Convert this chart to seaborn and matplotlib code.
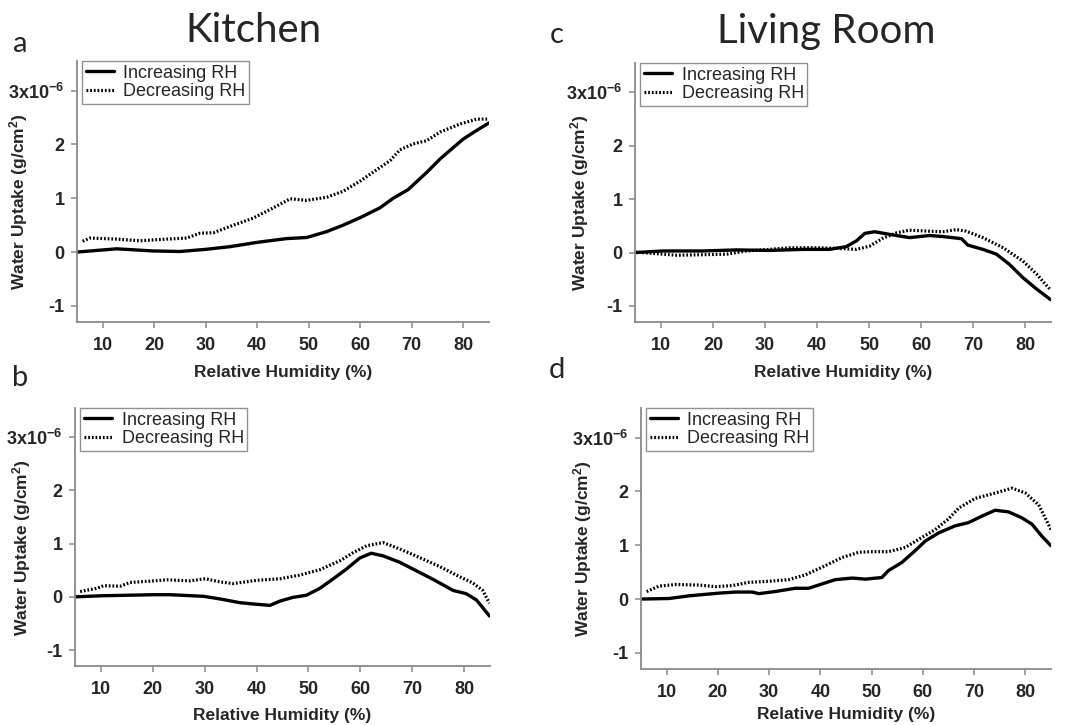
import numpy as np
import pandas as pd
import matplotlib
matplotlib.use("Agg")
import matplotlib.pyplot as plt
import seaborn as sns

# ---------------- data (RH %, water uptake in 1e-6 g/cm^2) ----------------
a_inc_x = [5, 12.7, 19.8, 25, 30, 34.7, 40, 45.7, 49.6, 53.5, 56.7, 60, 63.8, 66.4, 69.3, 72.9, 75.5, 80, 82.6, 85]
a_inc_y = [0, 0.06, 0.02, 0.01, 0.05, 0.10, 0.18, 0.25, 0.27, 0.38, 0.50, 0.64, 0.82, 1.00, 1.16, 1.48, 1.73, 2.10, 2.26, 2.40]
a_dec_x = [6.1, 7.5, 12.7, 17.2, 22.4, 26.3, 28.9, 31.5, 35.4, 39.2, 43.1, 46.4, 49.6, 53.5, 56.7, 60, 63.2, 65.8, 67.7, 70.3, 72.9, 75.5, 79.4, 82.6, 85]
a_dec_y = [0.20, 0.26, 0.24, 0.21, 0.24, 0.26, 0.35, 0.36, 0.50, 0.63, 0.82, 0.99, 0.96, 1.02, 1.13, 1.32, 1.53, 1.70, 1.90, 2.01, 2.07, 2.23, 2.38, 2.47, 2.47]

b_inc_x = [5, 10, 20.1, 23.3, 29.8, 33, 36.8, 40, 42.6, 44.5, 47, 49.6, 52.2, 54.8, 57.3, 59.9, 62.1, 64.4, 67.6, 70.2, 74, 77.9, 80.4, 82.4, 84.9]
b_inc_y = [0, 0.02, 0.04, 0.04, 0.01, -0.04, -0.11, -0.14, -0.16, -0.08, -0.01, 0.03, 0.16, 0.34, 0.52, 0.73, 0.82, 0.77, 0.65, 0.52, 0.33, 0.12, 0.06, -0.06, -0.36]
b_dec_x = [6, 9.2, 10.5, 13.7, 15.6, 20.1, 22.7, 27.2, 30.1, 33, 35.5, 40, 44.5, 48.4, 52.2, 56.1, 58.6, 61.2, 64.4, 67.6, 71.4, 75.3, 79.1, 81.7, 83.6, 84.9]
b_dec_y = [0.10, 0.16, 0.21, 0.20, 0.27, 0.30, 0.32, 0.30, 0.34, 0.28, 0.25, 0.31, 0.34, 0.41, 0.51, 0.68, 0.83, 0.96, 1.02, 0.90, 0.74, 0.57, 0.38, 0.26, 0.12, -0.12]

c_inc_x = [5, 10.4, 18.1, 24.5, 30.9, 37.3, 42.4, 45.6, 47.6, 49.2, 51.1, 54, 57.8, 61.7, 64.2, 67.8, 69, 71.9, 74.5, 77, 79.6, 82.2, 84.9]
c_inc_y = [0, 0.03, 0.03, 0.05, 0.04, 0.06, 0.06, 0.11, 0.22, 0.36, 0.39, 0.34, 0.28, 0.32, 0.30, 0.26, 0.14, 0.06, -0.03, -0.22, -0.47, -0.68, -0.88]
c_dec_x = [5, 7.8, 12.9, 18.1, 22.6, 26.4, 30.9, 34.7, 39.9, 43.7, 47.6, 50.1, 52.7, 55.3, 57.8, 61.7, 64.2, 66.8, 68.7, 71.9, 75.8, 79.6, 82.2, 84.9]
c_dec_y = [0.01, -0.01, -0.05, -0.04, -0.03, 0.03, 0.06, 0.09, 0.09, 0.08, 0.06, 0.12, 0.27, 0.37, 0.42, 0.40, 0.39, 0.43, 0.40, 0.28, 0.09, -0.16, -0.40, -0.70]

d_inc_x = [5, 10.5, 14.4, 20.2, 23.5, 26.7, 28, 31.2, 35.1, 37.7, 40.3, 42.9, 46.2, 48.8, 52, 53.3, 55.9, 58.5, 60.5, 63.1, 66.3, 68.9, 71.5, 74.1, 76.7, 79.3, 81.3, 83.2, 85]
d_inc_y = [0, 0.01, 0.06, 0.11, 0.13, 0.13, 0.10, 0.14, 0.20, 0.20, 0.28, 0.36, 0.39, 0.37, 0.40, 0.53, 0.68, 0.90, 1.08, 1.23, 1.36, 1.42, 1.54, 1.65, 1.62, 1.51, 1.39, 1.17, 0.99]
d_dec_x = [6.1, 8.5, 11.8, 16.3, 19.6, 22.8, 26, 29.9, 33.8, 37.1, 40.3, 44.2, 47.5, 50.1, 53.3, 56.6, 59.2, 62.4, 65, 67, 70.2, 74.1, 77.4, 80, 82.6, 85]
d_dec_y = [0.14, 0.24, 0.27, 0.26, 0.23, 0.25, 0.31, 0.33, 0.36, 0.45, 0.59, 0.77, 0.87, 0.88, 0.88, 0.96, 1.11, 1.29, 1.49, 1.69, 1.87, 1.97, 2.06, 1.97, 1.75, 1.29]

series_labels = ["Increasing RH", "Decreasing RH"]
x_ticks = [10, 20, 30, 40, 50, 60, 70, 80]
y_ticks = [-1, 0, 1, 2, 3]
y_tick_labels = ["-1", "0", "1", "2", "3x10$^{\\mathrm{-6}}$"]
titles = ["Kitchen", "Living Room"]
panel_letters = ["a", "b", "c", "d"]

# ---------------- style ----------------
sns.set_theme(style="white")
plt.rcParams["font.family"] = ["Liberation Sans", "DejaVu Sans"]
plt.rcParams["mathtext.fontset"] = "custom"
plt.rcParams["mathtext.rm"] = "Liberation Sans:bold"
plt.rcParams["mathtext.bf"] = "Liberation Sans:bold"
plt.rcParams["mathtext.it"] = "Liberation Sans:bold"
plt.rcParams["axes.unicode_minus"] = False

W, H = 1072, 725
fig = plt.figure(figsize=(W / 100, H / 100), dpi=100)

# pixel boxes: left, right, top, bottom
boxes = {
    "a": (77, 489, 61, 322),
    "b": (75, 490, 408, 666),
    "c": (635, 1051, 63, 322),
    "d": (641, 1051, 408, 669),
}
# y-label offset from spine (px) and x-label pad (pt)
ylab_off = {"a": 47, "b": 42, "c": 44, "d": 47}
xlab_pad = {"a": 8, "b": 7, "c": 8, "d": 4}
data = {
    "a": (a_inc_x, a_inc_y, a_dec_x, a_dec_y),
    "b": (b_inc_x, b_inc_y, b_dec_x, b_dec_y),
    "c": (c_inc_x, c_inc_y, c_dec_x, c_dec_y),
    "d": (d_inc_x, d_inc_y, d_dec_x, d_dec_y),
}
spine_col = "#8a8a8a"

for key in panel_letters:
    l, r, t, b = boxes[key]
    ax = fig.add_axes([l / W, 1 - b / H, (r - l) / W, (b - t) / H])
    ix, iy, dx, dy = data[key]
    df = pd.concat([
        pd.DataFrame({"RH": ix, "W": iy, "s": series_labels[0]}),
        pd.DataFrame({"RH": dx, "W": dy, "s": series_labels[1]}),
    ])
    sns.lineplot(data=df[df.s == series_labels[0]], x="RH", y="W", ax=ax,
                 color="black", lw=2.4, label=series_labels[0], sort=False)
    sns.lineplot(data=df[df.s == series_labels[1]], x="RH", y="W", ax=ax,
                 color="black", lw=2.3, linestyle=(0, (0.55, 0.6)),
                 label=series_labels[1], sort=False)
    ax.set_xlim(5, 85)
    ax.set_ylim(-1.3, 3.55)
    ax.set_xticks(x_ticks)
    ax.set_xticklabels([str(v) for v in x_ticks], fontweight="bold", fontsize=13)
    ax.set_yticks(y_ticks)
    ax.set_yticklabels(y_tick_labels, fontweight="bold", fontsize=13)
    for s in ["top", "right"]:
        ax.spines[s].set_visible(False)
    for s in ["left", "bottom"]:
        ax.spines[s].set_color(spine_col)
        ax.spines[s].set_linewidth(1.3)
    ax.tick_params(axis="both", which="major", direction="out", length=4,
                   width=1.1, color=spine_col, pad=5, left=True, bottom=True)
    ax.tick_params(axis="x", pad=7)
    ax.set_xlabel("Relative Humidity (%)", fontweight="bold", fontsize=12.5,
                  labelpad=xlab_pad[key])
    ax.set_ylabel("Water Uptake (g/cm$^{\\mathrm{2}}$)", fontweight="bold", fontsize=12.5)
    ax.yaxis.set_label_coords(-ylab_off[key] / (r - l), 0.46)
    leg = ax.legend(loc="upper left", bbox_to_anchor=(0.012, 1.0), borderaxespad=0,
                    fontsize=13, frameon=True, fancybox=False, handlelength=1.6,
                    handletextpad=0.5, borderpad=0.2, labelspacing=0.1)
    leg.get_frame().set_edgecolor("#777777")
    leg.get_frame().set_linewidth(1.0)
    for line in leg.get_lines():
        if line.get_linestyle() == "-":
            line.set_linewidth(2.4)

# titles and panel letters
fig.text(253 / W, 1 - 31 / H, titles[0], fontsize=29, family=["Lato", "DejaVu Sans"], ha="center", va="center")
fig.text(826 / W, 1 - 31 / H, titles[1], fontsize=29, family=["Lato", "DejaVu Sans"], ha="center", va="center")
fig.text(20 / W, 1 - 44 / H, "a", fontsize=21, family=["Lato", "DejaVu Sans"], ha="center", va="center")
fig.text(20 / W, 1 - 378 / H, "b", fontsize=21, family=["Lato", "DejaVu Sans"], ha="center", va="center")
fig.text(557 / W, 1 - 35 / H, "c", fontsize=21, family=["Lato", "DejaVu Sans"], ha="center", va="center")
fig.text(557 / W, 1 - 370 / H, "d", fontsize=21, family=["Lato", "DejaVu Sans"], ha="center", va="center")

fig.savefig("out.png", dpi=100, facecolor="white")
